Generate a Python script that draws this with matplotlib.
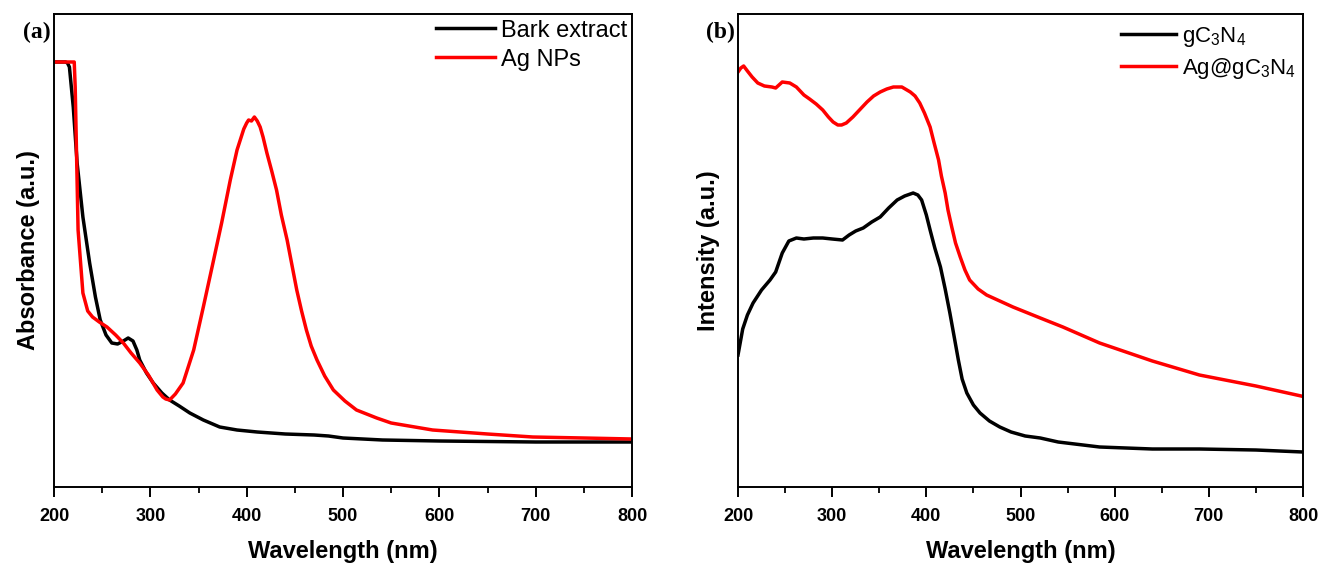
import matplotlib
matplotlib.use("Agg")
import matplotlib.pyplot as plt
from matplotlib.ticker import MultipleLocator
from matplotlib.font_manager import FontProperties

# Panel (a) UV-vis absorbance (arbitrary units)
wl_bark = [200, 212, 214, 216, 220, 224, 230, 237, 243, 248, 254, 260, 266, 272, 277, 282, 286, 289, 296, 303, 312, 320, 330, 341, 355, 372, 390, 411, 440, 470, 485, 500, 541, 600, 700, 800]
abs_bark = [425, 425, 424, 420, 380, 324, 270, 224, 190, 167, 152, 144, 143, 146, 149, 146, 137, 127, 114, 104, 94, 87, 81, 74, 67, 60, 57, 55, 53, 52, 51, 49, 47, 46, 45, 45]

wl_ag = [200, 221, 222, 225, 230, 235, 240, 247, 255, 264, 272, 280, 289, 298, 307, 313, 316, 320, 326, 334, 345, 355, 365, 374, 383, 390, 397, 400, 402, 405, 408, 411, 414, 417, 421, 426, 431, 436, 442, 447, 452, 457, 462, 467, 473, 481, 490, 502, 514, 535, 550, 593, 650, 697, 750, 800]
abs_ag = [425, 425, 400, 257, 194, 176, 170, 165, 160, 152, 144, 134, 124, 112, 97, 90, 88, 87, 93, 104, 137, 180, 224, 264, 307, 337, 358, 364, 367, 366, 370, 366, 360, 350, 334, 316, 297, 272, 247, 222, 197, 176, 157, 141, 127, 111, 97, 86, 77, 69, 64, 57, 53, 50, 49, 48]

# Panel (b) intensity (arbitrary units)
wl_g = [200, 205, 210, 216, 225, 234, 240, 247, 254, 262, 270, 280, 290, 300, 311, 318, 325, 333, 342, 351, 360, 369, 377, 386, 391, 395, 400, 404, 409, 415, 420, 425, 430, 434, 438, 443, 450, 457, 467, 478, 490, 505, 521, 540, 584, 640, 690, 750, 800]
int_g = [132, 158, 172, 184, 197, 207, 215, 234, 246, 249, 248, 249, 249, 248, 247, 252, 256, 259, 265, 270, 279, 287, 291, 294, 292, 287, 272, 257, 239, 220, 198, 174, 148, 127, 108, 94, 82, 74, 66, 60, 55, 51, 49, 45, 40, 38, 38, 37, 35]

wl_agg = [200, 203, 206, 210, 215, 221, 228, 236, 240, 247, 255, 262, 270, 276, 283, 290, 296, 301, 306, 310, 315, 322, 330, 337, 344, 351, 358, 365, 374, 383, 388, 393, 398, 404, 408, 413, 416, 420, 423, 427, 431, 436, 441, 446, 455, 464, 478, 492, 521, 545, 584, 640, 690, 750, 798]
int_agg = [415, 419, 421, 416, 410, 404, 401, 400, 399, 405, 404, 400, 392, 388, 383, 377, 370, 365, 362, 362, 364, 370, 378, 385, 391, 395, 398, 400, 400, 395, 391, 384, 374, 360, 345, 327, 311, 294, 277, 260, 244, 230, 217, 207, 198, 192, 186, 180, 169, 160, 144, 126, 112, 101, 91]

xticks = [200, 300, 400, 500, 600, 700, 800]

W, H = 1318, 568
fig = plt.figure(figsize=(W / 100, H / 100), dpi=100)
plt.rcParams["mathtext.fontset"] = "custom"
plt.rcParams["mathtext.rm"] = "Liberation Sans"
plt.rcParams["mathtext.it"] = "Liberation Sans"

tick_fp = FontProperties(family="Liberation Sans", weight="bold", size=13)
label_font = {"family": "Liberation Sans", "weight": "bold", "size": 17}

def style(ax, ylabel, panel, series, leg_anchor, leg_size, ylpad):
    for x, y, c, lab in series:
        ax.plot(x, y, color=c, lw=2.5, label=lab, solid_joinstyle="round")
    ax.set_xlim(200, 800)
    ax.set_ylim(0, 473)
    ax.set_xticks(xticks)
    ax.xaxis.set_minor_locator(MultipleLocator(50))
    ax.set_yticks([])
    ax.tick_params(axis="x", which="major", direction="out", length=7, width=1.4, pad=8)
    ax.tick_params(axis="x", which="minor", direction="out", length=4.5, width=1.3)
    for lbl in ax.get_xticklabels():
        lbl.set_fontproperties(tick_fp)
    for sp in ax.spines.values():
        sp.set_linewidth(1.4)
    ax.set_xlabel("Wavelength (nm)", fontdict=label_font, labelpad=11)
    ax.set_ylabel(ylabel, fontdict=label_font, labelpad=ylpad)
    ax.legend(loc="upper right", frameon=False, handlelength=2.5,
              handletextpad=0.25, borderaxespad=0.0, labelspacing=0.3,
              bbox_to_anchor=leg_anchor, prop={"family": "Liberation Sans", "size": leg_size})
    ax.text(-0.005, 0.96, panel, transform=ax.transAxes, ha="right", va="center",
            fontsize=17, fontweight="bold", family="Liberation Serif")

ax1 = fig.add_axes([54 / W, 1 - 487 / H, 578 / W, 473 / H])
style(ax1, "Absorbance (a.u.)", "(a)",
      [(wl_bark, abs_bark, "black", "Bark extract"), (wl_ag, abs_ag, "#ff0000", "Ag NPs")],
      (1.008, 1.008), 17, 10)

ax2 = fig.add_axes([738 / W, 1 - 487 / H, 565 / W, 473 / H])
style(ax2, "Intensity (a.u.)", "(b)",
      [(wl_g, int_g, "black", r"gC$_3$N$_4$"), (wl_agg, int_agg, "#ff0000", r"Ag@gC$_3$N$_4$")],
      (1.003, 0.995), 16, 13)

fig.savefig("out.png", dpi=100)
